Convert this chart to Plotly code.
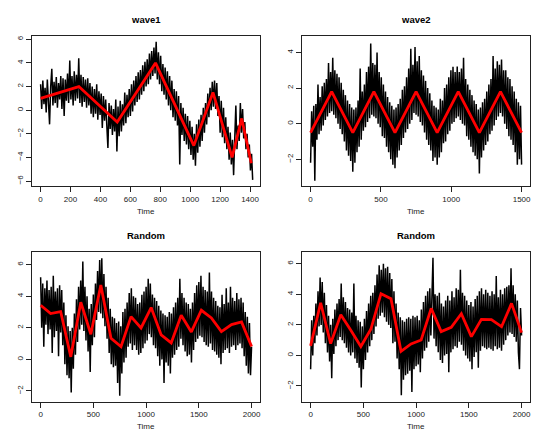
import plotly.graph_objects as go

# ---------------- data ----------------
# wave1 (top-left): observations every 7.5 time units
w1_step = 7.5
w1_values = [2.2, 0.1, 2.5, 0.5, 1.9, -0.2, 2.6, 0.3, -1.2, 2.0,
             3.5, 0.4, 2.4, 0.6, 2.8, 0.2, 2.3, 0.9, 2.9, 0.1,
             2.7, -0.5, 2.6, 0.8, 3.1, 0.6, 4.2, 0.9, 2.9, 0.4,
             3.3, 0.8, 3.0, 1.0, 4.4, 0.6, 3.0, 0.3, 2.8, 0.7,
             2.6, 0.2, 2.7, 0.4, 2.3, -0.3, 2.0, -0.6, 1.8, -0.3,
             2.2, -0.8, 1.6, -0.4, 1.4, -1.5, 1.2, -0.9, 0.9, -1.3,
             -3.2, 0.6, -1.6, 0.4, -2.1, 0.1, -1.8, 0.9, -3.5, 0.3,
             -2.2, 0.8, -1.8, 0.5, -1.3, 1.5, -1.1, 1.3, -0.6, 1.8,
             -0.5, 2.2, -0.1, 2.5, 0.4, 2.9, 0.7, 3.2, 0.9, 3.4,
             1.3, 3.8, 1.6, 4.1, 2.0, 4.3, 2.2, 4.8, 2.6, 5.0,
             2.9, 5.3, 3.1, 5.8, 2.6, 4.9, 2.2, 4.6, 1.6, 3.9,
             1.3, 3.6, 0.9, 3.3, 0.4, 2.9, 0.0, 2.5, -0.6, 1.8,
             -0.9, 1.6, -1.3, 1.2, -4.6, 0.6, -2.1, 0.2, -2.6, -0.3,
             -2.9, -0.5, -3.3, -0.9, -3.8, -1.4, -4.2, -2.0, -4.7, -1.2,
             -3.6, -0.8, -3.1, -0.4, -2.6, 0.2, -1.9, 0.6, -1.2, 1.4,
             -0.6, 1.9, 0.0, 2.4, 0.3, 2.5, 0.1, 2.3, -0.5, 1.2,
             -1.9, 0.8, -2.3, 0.2, -2.8, -0.6, -3.3, -1.4, -4.2, -1.9,
             -4.6, -2.5, -5.5, -2.4, 0.4, -3.3, -1.3, -2.6, 0.6, -1.9,
             0.1, -2.4, -1.0, -3.3, -2.0, -4.0, -2.9, -5.1, -3.7, -5.9]
w1_trend_time = [0, 256, 512, 768, 1024, 1152, 1280, 1344, 1408]
w1_trend = [1.0, 2.0, -1.0, 4.0, -3.0, 1.5, -4.0, -0.7, -4.5]

# wave2 (top-right): observations every 7.5 time units
w2_step = 7.5
w2_values = [-2.2, 0.7, -1.3, 1.0, -3.2, 1.1, -0.9, 2.2, -0.6, 1.5,
             -0.4, 2.1, -0.1, 2.3, 0.2, 2.5, 0.4, 3.4, 0.6, 2.9,
             0.7, 3.7, 0.5, 3.0, 0.3, 2.8, 0.0, 2.6, -0.3, 2.3,
             -0.6, 1.9, -1.0, 1.6, -1.5, 1.3, -1.8, 1.1, -2.1, 0.9,
             -2.7, 0.8, -2.2, 0.9, -1.6, 1.3, -1.3, 3.1, -0.9, 1.8,
             -0.4, 2.2, -0.2, 2.9, 0.1, 3.2, 0.3, 4.5, 0.5, 3.4,
             0.4, 3.3, 0.3, 4.0, 0.0, 2.9, -0.2, 2.6, -0.7, 2.2,
             -0.8, 1.8, -1.3, 1.5, -1.6, 1.2, -2.0, 1.0, -2.3, 0.8,
             -2.5, 0.9, -1.9, 1.1, -1.5, 1.4, -1.2, 1.9, -0.8, 2.1,
             -0.5, 2.6, -0.3, 3.1, 0.0, 4.2, 0.2, 3.3, 0.6, 4.3,
             0.5, 3.5, 0.4, 3.8, 0.1, 3.0, -0.1, 2.7, -0.5, 2.4,
             -0.9, 2.0, -1.2, 1.7, -1.5, 1.3, -2.1, 1.0, -1.9, 0.9,
             -2.3, 0.8, -1.9, 1.4, -1.6, 1.3, -1.1, 2.0, -1.0, 2.2,
             -0.6, 2.6, -0.4, 3.0, 0.0, 3.2, 0.1, 2.9, 0.3, 3.2,
             0.4, 2.9, 0.2, 3.1, 0.0, 3.7, -0.1, 2.5, -0.7, 2.2,
             -0.9, 1.9, -1.3, 1.6, -1.6, 1.3, -1.8, 1.1, -2.0, 0.8,
             -2.8, 0.9, -1.9, 1.2, -1.5, 1.4, -1.2, 1.8, -1.0, 2.2,
             -0.6, 2.5, -0.4, 3.8, -0.1, 3.1, 0.2, 3.5, 0.4, 3.3,
             0.6, 3.6, 0.4, 3.0, 0.0, 3.0, -0.3, 2.6, -0.7, 2.5,
             -0.9, 2.1, -1.2, 1.8, -1.6, 1.4, -2.3, 1.2, -2.0, 1.0,
             -2.3]
w2_trend_time = [0, 150, 300, 450, 600, 750, 900, 1050, 1200, 1350, 1500]
w2_trend = [-0.5, 1.8, -0.5, 1.8, -0.5, 1.8, -0.5, 1.8, -0.5, 1.8, -0.5]

# Random (bottom-left): observations every 10 time units
r1_step = 10
r1_values = [5.2, 2.0, 4.8, 0.8, 4.5, 2.2, 5.0, 1.6, 4.4, 1.9,
             4.6, 0.4, 5.3, 1.4, 4.3, 1.8, 4.5, 0.2, 4.7, 1.7,
             4.4, 0.9, 3.6, -0.3, 2.8, -1.0, 2.1, -1.2, 1.8, -2.1,
             2.0, -0.6, 2.9, 0.3, 3.8, 1.1, 4.6, 1.9, 5.0, 2.2,
             6.2, 1.8, 4.6, 1.2, 4.0, 0.5, 3.2, -0.8, 3.5, 0.9,
             4.1, 1.4, 4.8, 2.5, 5.6, 3.0, 6.3, 2.9, 6.4, 2.6,
             5.4, 2.1, 4.6, 1.3, 3.9, 0.4, 3.2, -0.3, 2.7, -0.5,
             2.6, -0.4, 2.3, -1.5, 2.4, -2.3, 2.1, -0.9, 3.0, -0.2,
             3.2, 0.1, 3.6, 0.8, 4.2, 1.0, 4.5, 0.6, 4.0, 0.9,
             3.9, 0.6, 3.5, 0.3, 3.6, 0.4, 4.1, 0.7, 4.3, 1.0,
             4.6, 1.2, 5.1, 1.6, 4.8, 1.4, 4.1, 0.9, 3.9, 0.7,
             3.7, 0.2, 3.4, -0.4, 3.1, 0.0, 2.9, -1.5, 2.8, -0.2,
             2.7, -0.4, 3.0, -0.9, 2.9, 0.1, 3.3, 0.3, 3.6, 0.6,
             3.9, 0.8, 5.1, 1.3, 4.2, 0.9, 3.9, 0.5, 3.6, 0.2,
             3.5, 0.3, 3.2, -0.2, 3.6, 0.6, 4.2, 1.1, 4.7, 1.3,
             4.9, 1.5, 5.3, 1.4, 4.6, 1.1, 4.4, 0.9, 4.3, 0.8,
             5.5, 1.0, 4.3, 0.6, 3.9, 0.5, 3.7, 0.3, 3.4, 0.1,
             3.3, -0.3, 4.1, 0.4, 3.5, 0.6, 4.5, 0.7, 3.6, 0.4,
             4.6, 0.8, 3.9, 0.9, 3.7, 0.6, 4.2, 0.9, 3.8, 1.0,
             3.9, 0.7, 3.6, 0.2, 3.0, -0.4, 2.7, -0.9, 2.3, -1.0,
             0.8]
r1_trend_time = [0, 95, 190, 286, 381, 476, 571, 667, 762, 857, 952,
                 1048, 1143, 1238, 1333, 1429, 1524, 1619, 1714, 1810, 1905, 2000]
r1_trend = [3.43, 2.9, 3.03, 0.16, 3.62, 1.59, 4.71, 1.34, 0.81, 2.71, 1.99,
            3.28, 1.55, 1.04, 2.79, 1.74, 3.11, 2.62, 1.76, 2.2, 2.37, 0.81]

# Random (bottom-right): observations every 10 time units
r2_step = 10
r2_values = [-0.9, 2.3, 0.0, 2.6, 0.8, 3.4, 1.3, 4.2, 1.9, 5.1,
             2.0, 4.8, 1.5, 4.1, 0.8, 3.3, 0.2, 2.6, -0.4, 2.0,
             -1.5, 2.4, 0.1, 3.0, 0.6, 3.4, 1.0, 3.7, 1.2, 4.7,
             1.0, 3.8, 0.8, 3.5, 0.5, 3.1, 0.2, 3.0, 0.0, 2.8,
             0.2, 4.7, -0.2, 2.6, -0.5, 2.3, -0.8, 2.2, -2.1, 1.9,
             -0.9, 2.4, -0.3, 2.9, 0.2, 3.4, 0.6, 3.9, 1.0, 4.1,
             1.4, 4.6, 1.9, 5.3, 2.4, 5.9, 2.6, 5.6, 2.8, 6.0,
             2.5, 5.7, 2.2, 5.8, 2.0, 5.4, 1.8, 5.0, 0.8, 4.2,
             0.9, 3.4, -0.2, 2.8, -0.9, 2.5, -2.6, 2.3, -1.6, 2.2,
             -1.3, 2.4, -1.2, 2.5, -1.0, 2.4, -2.4, 2.6, -0.9, 2.5,
             -0.7, 2.6, -0.6, 2.3, -1.1, 3.0, -0.2, 3.5, 0.3, 3.9,
             0.5, 4.2, 0.9, 4.4, 1.3, 4.6, 6.4, 1.1, 4.0, 0.6,
             3.9, 0.2, 4.1, -0.3, 3.4, -0.5, 3.2, 0.0, 3.6, 0.1,
             3.9, -1.1, 3.6, 0.2, 4.2, 0.4, 3.8, 0.6, 4.4, 0.5,
             4.3, 0.9, 5.6, 0.7, 4.1, 0.3, 3.9, 0.0, 3.6, -0.2,
             3.3, -0.4, 3.5, -0.9, 3.2, -0.1, 3.7, 0.2, 3.9, -0.8,
             4.2, 0.3, 4.4, 0.6, 4.0, 0.5, 4.3, 0.4, 4.1, 0.5,
             3.9, 0.4, 4.2, 0.3, 4.0, 0.6, 5.2, 0.4, 3.8, 0.5,
             4.3, 0.3, 4.0, 0.7, 4.4, 1.0, 4.5, 1.3, 4.6, 1.5,
             5.7, 1.4, 4.6, 1.2, 4.0, 0.9, 3.6, 0.2, -0.9, 3.1,
             1.3]
r2_trend_time = [0, 95, 190, 286, 381, 476, 571, 667, 762, 857, 952,
                 1048, 1143, 1238, 1333, 1429, 1524, 1619, 1714, 1810, 1905, 2000]
r2_trend = [0.62, 3.45, 0.77, 2.67, 1.64, 0.58, 1.71, 4.04, 3.71, 0.27, 0.75,
            1.01, 3.08, 1.56, 1.84, 2.73, 1.23, 2.36, 2.34, 1.88, 3.41, 1.49]

titles = ["wave1", "wave2", "Random", "Random"]
x_ticks = [[0, 200, 400, 600, 800, 1000, 1200, 1400],
           [0, 500, 1000, 1500],
           [0, 500, 1000, 1500, 2000],
           [0, 500, 1000, 1500, 2000]]
y_ticks = [[-6, -4, -2, 0, 2, 4, 6],
           [-2, 0, 2, 4],
           [-2, 0, 2, 4, 6],
           [-2, 0, 2, 4, 6]]

# ---------------- layout geometry ----------------
W, H = 540, 432
panels = [  # (left, right, top, bottom) in px
    (32.3, 260, 36, 186),
    (302.3, 530, 36, 186),
    (32.3, 260, 252, 401.7),
    (302.3, 530, 252, 401.7),
]
x_ranges = [[-55.4, 1466.4], [-58.96, 1559.96], [-78.96, 2079.96], [-78.96, 2079.96]]
y_ranges = [[-6.42, 6.28], [-3.5, 4.92], [-2.68, 6.8], [-3.03, 6.77]]

series = [(w1_step, w1_values, w1_trend_time, w1_trend),
          (w2_step, w2_values, w2_trend_time, w2_trend),
          (r1_step, r1_values, r1_trend_time, r1_trend),
          (r2_step, r2_values, r2_trend_time, r2_trend)]

FONT = "Liberation Sans, Arial, Helvetica, sans-serif"
fig = go.Figure()
annotations = []
layout = dict(width=W, height=H, margin=dict(l=0, r=0, t=0, b=0),
              paper_bgcolor="white", plot_bgcolor="white", showlegend=False,
              font=dict(family=FONT, size=8, color="black"))

for i, (step, v, tt, tv) in enumerate(series):
    n = "" if i == 0 else str(i + 1)
    xa, ya = "x" + n, "y" + n
    fig.add_trace(go.Scatter(x0=0, dx=step, y=v, mode="lines", xaxis=xa, yaxis=ya,
                             line=dict(color="black", width=1.5)))
    fig.add_trace(go.Scatter(x=tt, y=tv, mode="lines", xaxis=xa, yaxis=ya,
                             line=dict(color="#ff0000", width=2.8)))
    l, r, tp, b = panels[i]
    axis_common = dict(showgrid=False, zeroline=False, showline=True, mirror=True,
                       linecolor="#222", linewidth=1, ticks="outside", ticklen=5,
                       tickwidth=1, tickcolor="#222",
                       tickfont=dict(family=FONT, size=8, color="#222"))
    layout["xaxis" + n] = dict(domain=[l / W, r / W], range=x_ranges[i],
                               anchor=ya, tickvals=x_ticks[i], **axis_common)
    layout["yaxis" + n] = dict(domain=[1 - b / H, 1 - tp / H], range=y_ranges[i],
                               anchor=xa, tickvals=y_ticks[i], tickangle=-90,
                               **axis_common)
    cx = (l + r) / 2 / W
    annotations.append(dict(text="<b>" + titles[i] + "</b>", x=cx, y=1 - (tp - 17) / H,
                            xref="paper", yref="paper", showarrow=False,
                            xanchor="center", yanchor="middle",
                            font=dict(family=FONT, size=9.5, color="black")))
    annotations.append(dict(text="Time", x=cx, y=1 - (b + 25) / H,
                            xref="paper", yref="paper", showarrow=False,
                            xanchor="center", yanchor="middle",
                            font=dict(family=FONT, size=8, color="#222")))

layout["annotations"] = annotations
fig.update_layout(**layout)
fig.write_html("out.html", config={"displayModeBar": False},
               post_script="document.body.style.margin='0';document.body.style.padding='0';")
